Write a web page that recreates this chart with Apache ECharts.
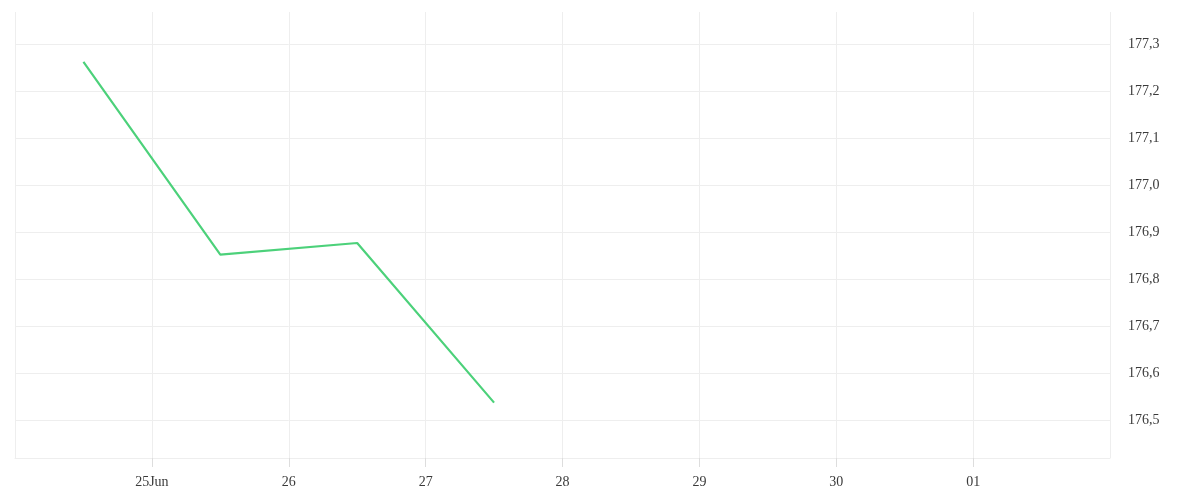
<!DOCTYPE html>
<html>
<head>
	<meta charset="utf-8">
	<title>chart</title>
	<script src="https://cdn.jsdelivr.net/npm/echarts@6/dist/echarts.min.js"></script>
	<style>
		html, body { margin: 0; padding: 0; background: #fff; }
	</style>
</head>
<body>
	<div id="container" style="width: 1200px;height:500px;"></div>

	<script type="text/javascript">
		// data
		var baseDate = '2024-06-24T00:00';
		var dates = ['2024-06-24T12:00', '2024-06-25T12:00', '2024-06-26T12:00', '2024-06-27T12:00'];
		var values = [177.263, 176.852, 176.877, 176.537];
		var dayLabels = ['', '25Jun', '26', '27', '28', '29', '30', '01', ''];

		var gridColor = '#eeeeee';
		var textColor = '#3a3a3a';
		var font = 'Liberation Serif';

		// days since the first day on the axis
		var base = new Date(baseDate).getTime();
		var points = [];
		for (var i = 0; i < dates.length; i++) {
			var d = (new Date(dates[i]).getTime() - base) / 86400000;
			points.push([d, values[i]]);
		}

		// last y split line (the top edge) is hidden
		var yLineColors = [];
		for (var k = 0; k < 10; k++) yLineColors.push(gridColor);
		yLineColors.push('rgba(0,0,0,0)');

		var myChart = echarts.init(document.getElementById('container'));
		myChart.setOption({
			animation: false,
			grid: { left: 15, right: 90, top: 12, bottom: 42 },
			xAxis: {
				type: 'value',
				min: 0,
				max: dayLabels.length - 1,
				interval: 1,
				axisLine: { show: true, onZero: false, lineStyle: { color: gridColor } },
				axisTick: { show: true, inside: false, length: 9, lineStyle: { color: '#dddddd', width: 1 } },
				splitLine: { show: true, lineStyle: { color: gridColor } },
				axisLabel: {
					margin: 17,
					color: textColor,
					fontFamily: font,
					fontSize: 14,
					showMinLabel: false,
					showMaxLabel: false,
					formatter: function (v) { return dayLabels[Math.round(v)]; }
				}
			},
			yAxis: {
				type: 'value',
				position: 'right',
				min: 176.419,
				max: 177.369,
				splitNumber: 10,
				axisLine: { show: false },
				axisTick: { show: false },
				splitLine: { show: true, lineStyle: { color: yLineColors } },
				axisLabel: {
					margin: 18,
					color: textColor,
					fontFamily: font,
					fontSize: 14,
					showMinLabel: false,
					showMaxLabel: false,
					formatter: function (v) { return v.toFixed(1).replace('.', ','); }
				}
			},
			series: [{
				type: 'line',
				data: points,
				symbol: 'none',
				lineStyle: { width: 2.2, color: '#4cd17a' }
			}]
		});
	</script>
</body>
</html>
